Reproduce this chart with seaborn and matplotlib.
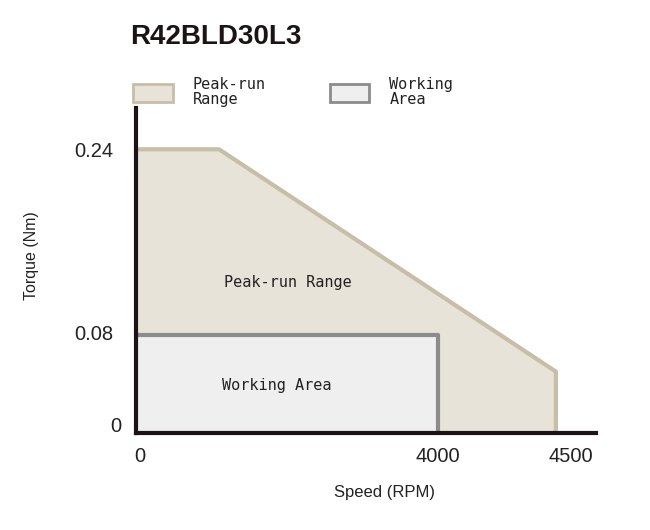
import numpy as np
import matplotlib
matplotlib.use("Agg")
import matplotlib.pyplot as plt
import matplotlib.transforms as mtransforms
import seaborn as sns
from matplotlib.patches import Patch

sns.set_style("white")
plt.rcParams["font.family"] = ["Liberation Sans", "DejaVu Sans"]

title = "R42BLD30L3"

# peak-run envelope (speed rpm, torque Nm)
peak_speed = [0, 1100, 4500]
peak_torque = [0.24, 0.24, 0.05]
# working area box
work_speed = [0, 4000]
work_torque = [0.08, 0.08]

xticks = [0, 4000, 4500]
yticks = [0, 0.08, 0.24]
ytick_labels = ["0", "0.08", "0.24"]

peak_fill = "#E8E3D8"
peak_edge = "#C7BEA8"
work_fill = "#EFEFEF"
work_edge = "#8C8C8C"
axis_col = "#1C1414"
txt_col = "#222222"
mono = ["DejaVu Sans Mono", "Liberation Mono"]

# the drawing is schematic, so both axes are piecewise linear
_rpm = [-10000, 0, 4000, 4500, 10000]
_xpx = [-755, 0, 302, 420, 1718]
_nm = [-1, 0, 0.08, 0.24, 1]
_ypx = [-1225, 0, 98, 283, 1152]


def xfwd(x):
    return np.interp(x, _rpm, _xpx)


def xinv(p):
    return np.interp(p, _xpx, _rpm)


def yfwd(y):
    return np.interp(y, _nm, _ypx)


def yinv(p):
    return np.interp(p, _ypx, _nm)


fig = plt.figure(figsize=(6.5, 5.3), dpi=100)
ax = fig.add_axes([136 / 650, 1 - 433 / 530, 460 / 650, 325 / 530])
ax.set_xscale("function", functions=(xfwd, xinv))
ax.set_yscale("function", functions=(yfwd, yinv))

# peak-run region
ax.fill_between(peak_speed, peak_torque, 0, color=peak_fill, lw=0, zorder=1)
sns.lineplot(x=peak_speed + [peak_speed[-1]], y=peak_torque + [0], sort=False,
             estimator=None, color=peak_edge, lw=3, ax=ax, zorder=2)

# working area
ax.fill_between(work_speed, work_torque, 0, color=work_fill, lw=0, zorder=3)
sns.lineplot(x=work_speed + [work_speed[-1]], y=work_torque + [0], sort=False,
             estimator=None, color=work_edge, lw=3, ax=ax, zorder=4)

ax.text(2013, 0.125, "Peak-run Range", family=mono, fontsize=11,
        ha="center", va="center", color=txt_col, zorder=5)
ax.text(1868, 0.039, "Working Area", family=mono, fontsize=11,
        ha="center", va="center", color=txt_col, zorder=5)

ax.set_xlim(0, 4670)
ax.set_ylim(0, 0.276)
ax.set_xticks(xticks)
ax.set_xticklabels([str(v) for v in xticks])
ax.set_yticks(yticks)
ax.set_yticklabels(ytick_labels)
ax.tick_params(axis="both", length=0, labelsize=14.5, colors=txt_col)
ax.tick_params(axis="y", pad=16)
ax.tick_params(axis="x", pad=10)

# small nudges of tick labels as in the original drawing
fig.canvas.draw()
xlabs = ax.get_xticklabels()
ylabs = ax.get_yticklabels()
xlabs[0].set_transform(xlabs[0].get_transform() +
                       mtransforms.ScaledTranslation(4 / 100, 0, fig.dpi_scale_trans))
xlabs[2].set_transform(xlabs[2].get_transform() +
                       mtransforms.ScaledTranslation(15 / 100, 0, fig.dpi_scale_trans))
ylabs[0].set_transform(ylabs[0].get_transform() +
                       mtransforms.ScaledTranslation(8 / 100, 8 / 100, fig.dpi_scale_trans))
ylabs[1].set_transform(ylabs[1].get_transform() +
                       mtransforms.ScaledTranslation(0, 2 / 100, fig.dpi_scale_trans))

for s in ["top", "right"]:
    ax.spines[s].set_visible(False)
for s in ["left", "bottom"]:
    ax.spines[s].set_color(axis_col)
    ax.spines[s].set_linewidth(3)
    ax.spines[s].set_zorder(6)

ax.set_xlabel("Speed (RPM)", fontsize=12, color=txt_col)
ax.set_ylabel("Torque (Nm)", fontsize=11.5, color=txt_col)
ax.xaxis.set_label_coords(0.541, -0.16)
ax.yaxis.set_label_coords(-0.21, 0.546)

fig.text(130 / 650, 1 - 37 / 530, title, fontsize=20, fontweight="bold",
         va="center", ha="left", color="#1C1414")

handles = [Patch(facecolor=peak_fill, edgecolor=peak_edge, lw=2),
           Patch(facecolor=work_fill, edgecolor=work_edge, lw=2)]
leg = fig.legend(handles, ["Peak-run\nRange", "Working\nArea"],
                 loc="upper left", bbox_to_anchor=(133 / 650, 1 - 77 / 530),
                 bbox_transform=fig.transFigure, ncol=2, frameon=False,
                 borderpad=0, borderaxespad=0, handlelength=2.6,
                 handleheight=1.4, handletextpad=1.3, columnspacing=4.2,
                 prop={"family": mono, "size": 11})
for t in leg.get_texts():
    t.set_linespacing(1.0)
    t.set_color(txt_col)

fig.savefig("out.png", dpi=100)
